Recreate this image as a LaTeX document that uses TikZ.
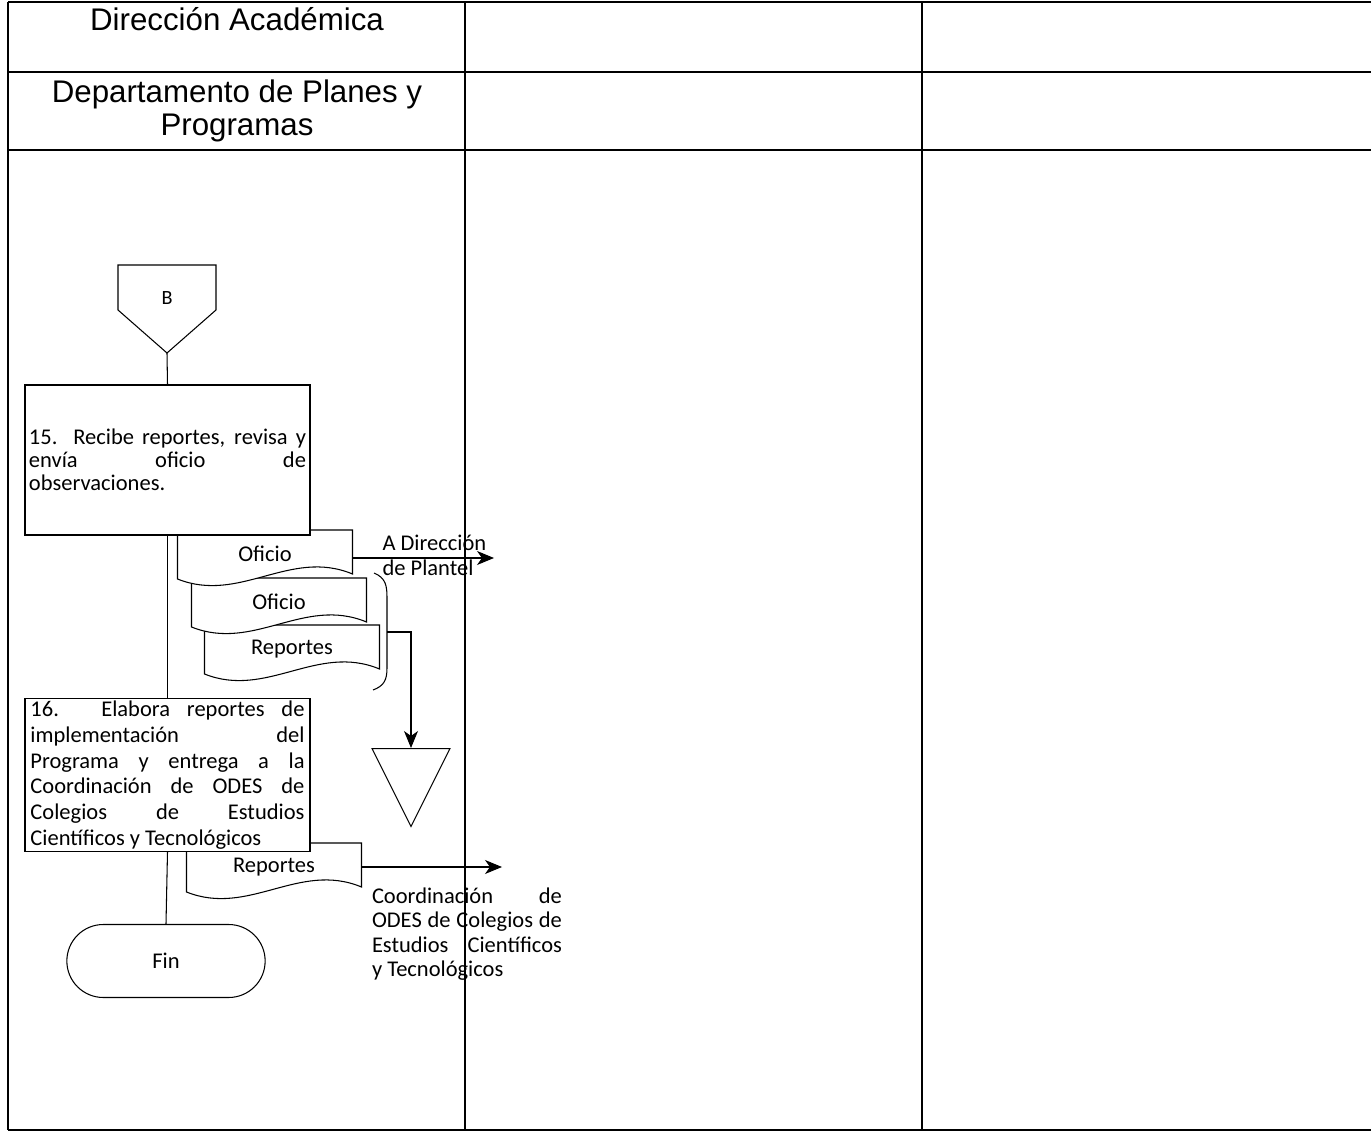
\documentclass[tikz,border=0pt]{standalone}
\usepackage{fontspec}
\setmainfont{Carlito}
\newfontfamily\headfont{Liberation Sans}
\usetikzlibrary{arrows.meta, shapes.geometric, shapes.misc}
\hyphenpenalty=10000
\tolerance=10000
\hbadness=10000

% document symbol: name, centre x, top y, text
\newcommand{\docu}[4]{%
  \draw[fill=white] (#2-87.5,#3) -- (#2+87.5,#3) -- (#2+87.5,#3+44)
    .. controls (#2+25,#3+18) and (#2-25,#3+74) .. (#2-87.5,#3+49) -- cycle;
  \node[doctext] (#1) at (#2,#3+24) {#4};}

\begin{document}
\begin{tikzpicture}[x=0.2mm, y=-0.2mm, line width=0.6pt,
      lane/.style={line width=0.8pt},
      lanetitle/.style={font=\headfont\fontsize{17.8}{18.8}\selectfont, align=center, inner sep=0pt},
      act/.style={draw, fill=white, minimum width=57mm, minimum height=30mm, inner sep=0.5mm,
                  align=justify, font=\fontsize{12.8}{13.2}\selectfont},
      doctext/.style={minimum width=35mm, minimum height=8.8mm, inner sep=0pt, font=\fontsize{12.8}{13.2}\selectfont},
      fin/.style={draw, rounded rectangle, minimum width=42mm, minimum height=14.6mm, font=\fontsize{12.8}{13.2}\selectfont},
      archive/.style={draw, isosceles triangle, isosceles triangle stretches, shape border rotate=-90,
                      minimum width=15.6mm, minimum height=15.6mm, inner sep=0pt},
      lbl/.style={inner sep=0pt, font=\fontsize{12.8}{13.2}\selectfont},
      >={Stealth[length=3.4mm, width=2.8mm, inset=1mm]}
    ]
    \useasboundingbox (0,0) rectangle (1371,1135);

    % swimlanes
    \draw[lane] (8,2) -- (1371,2);
    \draw[lane] (8,72) -- (1371,72);
    \draw[lane] (8,150) -- (1371,150);
    \draw[lane] (8,1130) -- (1371,1130);
    \draw[lane] (8,2) -- (8,1130);
    \draw[lane] (465,2) -- (465,1130);
    \draw[lane] (922,2) -- (922,1130);

    \node[lanetitle] (dirAcad) at (237,19) {Dirección Académica};
    \node[lanetitle] (deptPlanes) at (237,111) {Departamento de Planes y\\Programas};

    % off-page connector B
    \draw (118,265) -- (216,265) -- (216,310) -- (167,353) -- (118,310) -- cycle;
    \node[lbl, font=\fontsize{11.5}{12}\selectfont] (offB) at (167,298) {B};
    \coordinate (offBtip) at (167,353);

    % documents of step 15 (back to front)
    \docu{docRep}{292}{625}{Reportes}
    \docu{docOfi2}{279}{578}{Oficio}
    \docu{docOfi1}{265}{530}{Oficio}

    \node[act, text width=55.4mm] (act15) at (167.5,460)
      {15. Recibe reportes, revisa y\linebreak envía oficio de\linebreak observaciones.};

    % document of step 16
    \docu{docRep2}{274}{843}{Reportes}

    \node[act, text width=54.8mm, font=\fontsize{12.8}{14.6}\selectfont] (act16) at (167.5,775)
      {16. Elabora reportes de\linebreak implementación del\linebreak Programa y entrega a la\linebreak
       Coordinación de ODES de\linebreak Colegios de Estudios\linebreak Científicos y Tecnológicos};

    \node[fin] (fin) at (166,961) {Fin};

    \draw (offBtip) -- (act15.north);
    \draw (act15.south) -- (act16.north);
    \draw (act16.south) -- (fin.north);

    % archive
    \node[archive, anchor=north] (arch) at (411,748) {};
    \draw (374,573) .. controls (386,578) and (387,586) .. (387,598) -- (387,668)
      .. controls (387,680) and (384,686) .. (373,690);
    \coordinate (brk) at (387,632);
    \draw[->] (brk) -| (arch.north);

    % outgoing documents
    \coordinate (toPlantel) at (494,558);
    \draw[->] (docOfi1.east |- toPlantel) -- (toPlantel);
    \node[lbl, anchor=west, align=left, font=\fontsize{12.8}{14.2}\selectfont] (lblPlantel) at (382,555)
      {A Dirección\\de Plantel};

    \coordinate (toCoord) at (502,867);
    \draw[->] (docRep2.east) -- (toCoord);
    \node[lbl, text width=38mm, align=justify, font=\fontsize{12.8}{13.8}\selectfont] (lblCoord) at (467,934)
      {Coordinación de\linebreak ODES de Colegios de\linebreak Estudios Científicos\linebreak y Tecnológicos};
\end{tikzpicture}
\end{document}
